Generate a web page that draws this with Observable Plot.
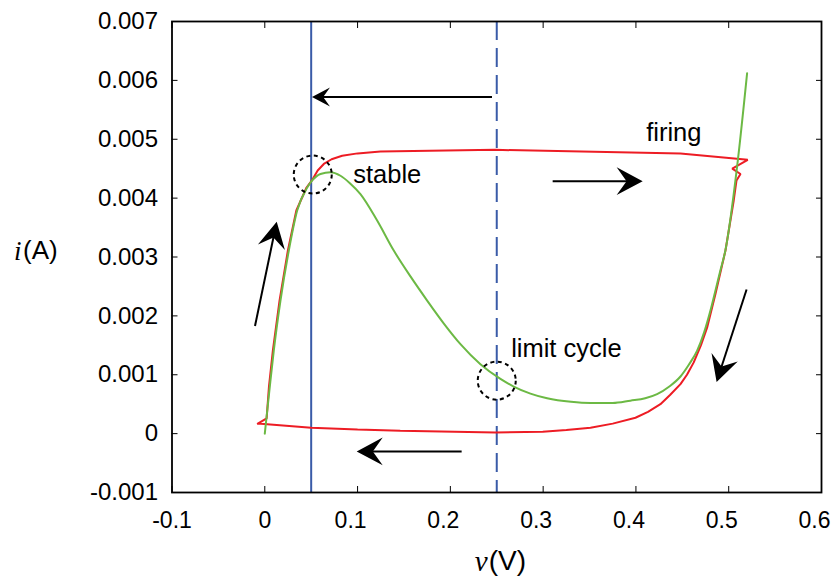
<!DOCTYPE html>
<html><head><meta charset="utf-8">
<script src="https://cdn.jsdelivr.net/npm/d3@7"></script>
<script src="https://cdn.jsdelivr.net/npm/@observablehq/plot@0.6"></script>
<style>body{margin:0;background:#fff} svg{display:block}</style>
</head><body><div id="chart"></div>
<script>
// ---- data ----
const xTicks = [-0.1, 0, 0.1, 0.2, 0.3, 0.4, 0.5, 0.6];
const xTicksLeft = [-0.1, 0];            // labels centred on their ticks
const xTicksDecimal = [0.1, 0.2, 0.3, 0.4, 0.5, 0.6]; // labels set slightly left
const yTicks = [-0.001, 0, 0.001, 0.002, 0.003, 0.004, 0.005, 0.006, 0.007];

// I-V characteristic (green)
const greenV = [0, 0.005, 0.0097, 0.0169, 0.0259, 0.0349, 0.0457, 0.0511, 0.06, 0.0708, 0.0816, 0.092, 0.1031, 0.1211, 0.139, 0.157, 0.175, 0.193, 0.2109, 0.2324, 0.254, 0.2683, 0.2863, 0.3043, 0.33, 0.351, 0.375, 0.394, 0.41, 0.4228, 0.436, 0.448, 0.457, 0.466, 0.4735, 0.4803, 0.486, 0.491, 0.4964, 0.509, 0.5198];
const greenI = [0, 0.00074, 0.00141, 0.00226, 0.00311, 0.00379, 0.00418, 0.0043, 0.00441, 0.00444, 0.00438, 0.00425, 0.00407, 0.00362, 0.00311, 0.00267, 0.00226, 0.00187, 0.00152, 0.00118, 0.00093, 0.0008, 0.00068, 0.0006, 0.00054, 0.00052, 0.00052, 0.00056, 0.0006, 0.00067, 0.0008, 0.00097, 0.00117, 0.00141, 0.00172, 0.00209, 0.00245, 0.00277, 0.00311, 0.00453, 0.00612];

// limit-cycle trajectory (red), in traversal order
const redV = [-0.0075, 0.002, 0.0045, 0.0087, 0.0159, 0.0249, 0.034, 0.045, 0.0508, 0.057, 0.0636, 0.072, 0.0834, 0.1, 0.1247, 0.2485, 0.448, 0.5205, 0.5038, 0.5127, 0.5084, 0.5054, 0.4965, 0.4857, 0.4767, 0.47, 0.4623, 0.455, 0.448, 0.437, 0.4264, 0.413, 0.3995, 0.375, 0.351, 0.325, 0.2996, 0.2486, 0.146, 0.1, 0.05, -0.0075];
const redI = [0.00017, 0.00026, 0.0008, 0.00141, 0.00226, 0.00311, 0.00379, 0.00418, 0.0043, 0.00447, 0.00458, 0.00466, 0.00472, 0.00476, 0.00479, 0.00482, 0.00476, 0.00465, 0.0045, 0.00441, 0.0043, 0.00396, 0.00311, 0.00237, 0.0018, 0.0015, 0.00121, 0.001, 0.00084, 0.00066, 0.0005, 0.00037, 0.00027, 0.00017, 0.0001, 0.00006, 0.00003, 0.00002, 0.00005, 0.00007, 0.0001, 0.00017];

const loadLineSolid = [0.05];
const loadLineDashed = [0.25];

const arrowX1 = [0.2454, 0.3108, 0.2127, -0.01, 0.5198];
const arrowY1 = [0.00571, 0.00428, -0.00031, 0.00182, 0.00244];
const arrowX2 = [0.0514, 0.4078, 0.0996, 0.0134, 0.4875];
const arrowY2 = [0.00571, 0.00428, -0.00031, 0.00359, 0.00087];

const circleV = [0.0517, 0.25];
const circleI = [0.0044, 0.0009];

const noteText = ["stable", "firing", "limit cycle"];
const noteV = [0.0953, 0.411, 0.2655];
const noteI = [0.004396, 0.005117, 0.001432];

// ---- tables built from the arrays ----
const green = greenV.map((v, k) => ({v, i: greenI[k]}));
const red = redV.map((v, k) => ({v, i: redI[k]}));
const circles = circleV.map((v, k) => ({v, i: circleI[k]}));
const notes = noteText.map((t, k) => ({t, v: noteV[k], i: noteI[k]}));

// ---- styles ----
const RED = "#ed1c24", GREEN = "#6cb944", BLUE = "#3a5ba8";
const SANS = "Liberation Sans, Arial, Helvetica, sans-serif";
const SERIF = "Liberation Serif, Times New Roman, serif";
const headLen = [18, 26, 26, 26, 26];

function arrowMark(index, scales) {
  const g = d3.create("svg:g");
  arrowX1.forEach((_, k) => {
    const x1 = scales.x(arrowX1[k]), y1 = scales.y(arrowY1[k]);
    const x2 = scales.x(arrowX2[k]), y2 = scales.y(arrowY2[k]);
    const a = Math.atan2(y2 - y1, x2 - x1), c = Math.cos(a), s = Math.sin(a);
    const L = headLen[k], W = L * 0.53, N = L * 0.62;
    const P = (u, w) => [x2 + u * c - w * s, y2 + u * s + w * c];
    const n = P(-N + 1, 0);
    g.append("line").attr("x1", x1).attr("y1", y1).attr("x2", n[0]).attr("y2", n[1])
      .attr("stroke", "black").attr("stroke-width", 2);
    const pts = [P(0, 0), P(-L, W), P(-N, 0), P(-L, -W)];
    g.append("path").attr("fill", "black")
      .attr("d", "M" + pts.map(p => p.join(",")).join("L") + "Z");
  });
  return g.node();
}

const fmtX = d => String(+d.toFixed(1));
const fmtY = d => String(+d.toFixed(3));

const chart = Plot.plot({
  width: 833,
  height: 586,
  marginLeft: 171.5,
  marginRight: 12,
  marginTop: 21,
  marginBottom: 94,
  style: {fontFamily: SANS, fontSize: "23px", background: "white", color: "black"},
  x: {domain: [-0.1, 0.6]},
  y: {domain: [-0.001, 0.007]},
  marks: [
    Plot.ruleX(loadLineSolid, {x: d => d, stroke: BLUE, strokeWidth: 2}),
    Plot.ruleX(loadLineDashed, {x: d => d, stroke: BLUE, strokeWidth: 2, strokeDasharray: "19,8"}),
    Plot.line(red, {x: "v", y: "i", stroke: RED, strokeWidth: 2, strokeLinejoin: "miter"}),
    Plot.line(green, {x: "v", y: "i", stroke: GREEN, strokeWidth: 2, curve: "monotone-x"}),
    Plot.dot(circles, {x: "v", y: "i", r: 19, stroke: "black", strokeWidth: 2, strokeDasharray: "4,3.5", fill: "none"}),
    Plot.text(notes, {x: "v", y: "i", text: "t", textAnchor: "start", fontSize: 25.5, fill: "black"}),
    arrowMark,
    Plot.frame({stroke: "black", strokeWidth: 1.8}),
    Plot.axisX(xTicks, {anchor: "bottom", tickSize: -6, label: null, tickFormat: () => ""}),
    Plot.axisX(xTicksLeft, {anchor: "bottom", tickSize: 0, tickPadding: 19, fontSize: 23, label: null, tickFormat: fmtX}),
    Plot.axisX(xTicksDecimal, {anchor: "bottom", tickSize: 0, tickPadding: 19, dx: -7, fontSize: 23, label: null, tickFormat: fmtX}),
    Plot.axisX(xTicks, {anchor: "top", tickSize: -6, label: null, tickFormat: () => ""}),
    Plot.axisY(yTicks, {anchor: "left", tickSize: -6, tickPadding: 20, fontSize: 24, label: null, tickFormat: fmtY}),
    Plot.axisY(yTicks, {anchor: "right", tickSize: -6, label: null, tickFormat: () => ""}),
    Plot.text(["i"], {frameAnchor: "left", text: d => d, dx: -158, dy: -6, textAnchor: "start", fontSize: 27, fontFamily: SERIF, fontStyle: "italic"}),
    Plot.text(["(A)"], {frameAnchor: "left", text: d => d, dx: -149, dy: -6, textAnchor: "start", fontSize: 26}),
    Plot.text(["v"], {frameAnchor: "bottom", text: d => d, dx: -22, dy: 78, textAnchor: "start", fontSize: 29, fontFamily: SERIF, fontStyle: "italic"}),
    Plot.text(["(V)"], {frameAnchor: "bottom", text: d => d, dx: -8, dy: 77, textAnchor: "start", fontSize: 28})
  ]
});
document.getElementById("chart").appendChild(chart);
</script>
</body></html>
